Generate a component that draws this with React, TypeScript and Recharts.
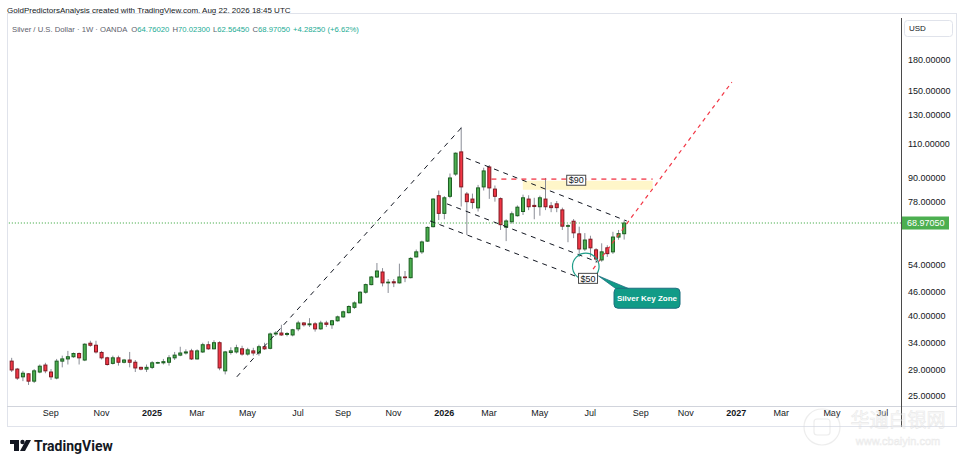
import { Bar, ComposedChart, XAxis, YAxis, ReferenceLine, ReferenceArea, ReferenceDot } from "recharts";

// weekly candles, first bar = week of 2024-07-15, last = week of 2026-08-17
const opens = [
  30.6, 29.2, 27.9, 28.4, 27.2, 28.7, 29.9, 28.7, 27.7, 30.6,
  31.0, 31.4, 32.0, 30.8, 34.0, 33.6, 32.2, 31.2, 30.2, 31.2,
  30.4, 30.8, 30.4, 29.5, 29.2, 29.5, 30.3, 30.3, 30.4, 31.2,
  31.7, 32.1, 32.5, 31.0, 32.3, 33.7, 32.9, 34.1, 28.9, 32.2,
  32.3, 32.9, 31.9, 32.5, 32.1, 33.3, 33.0, 35.9, 36.1, 35.8,
  35.7, 37.0, 38.3, 37.9, 38.1, 37.0, 38.3, 37.9, 38.8, 39.7,
  40.7, 42.0, 43.1, 45.9, 48.0, 50.2, 51.7, 48.5, 48.8, 48.5,
  50.2, 50.0, 56.5, 58.2, 62.0, 67.5, 81.0, 73.0, 80.7, 92.0,
  104.8, 81.8, 79.4, 75.4, 85.3, 95.9, 84.2, 79.6, 67.3, 69.5,
  72.0, 73.8, 79.4, 76.5, 75.9, 79.4, 76.3, 77.2, 74.5, 67.7,
  69.7, 64.7, 59.2, 62.7, 58.9, 55.5, 59.6, 58.2, 63.5, 64.7602,
];
const highs = [
  31.2, 29.4, 28.9, 28.5, 29.2, 30.0, 30.3, 29.2, 31.0, 31.6,
  32.5, 32.2, 32.2, 34.0, 34.5, 34.5, 32.5, 31.4, 31.6, 31.6,
  31.0, 32.3, 30.8, 29.6, 30.0, 30.6, 30.5, 31.0, 31.7, 32.3,
  33.3, 32.8, 32.9, 32.8, 34.1, 34.4, 34.6, 34.4, 32.5, 33.2,
  33.7, 33.5, 33.1, 33.1, 33.7, 34.1, 36.2, 36.5, 37.9, 36.3,
  37.0, 38.8, 38.5, 39.4, 38.5, 38.8, 38.8, 39.0, 40.0, 41.2,
  42.5, 43.5, 46.2, 48.3, 50.5, 54.5, 52.9, 49.6, 49.6, 54.3,
  52.0, 56.4, 59.0, 62.2, 67.6, 79.8, 83.5, 80.8, 92.3, 104.5,
  121.4, 82.8, 82.0, 86.3, 95.5, 97.0, 86.0, 80.2, 70.5, 73.8,
  76.5, 81.5, 81.2, 80.0, 81.0, 89.9, 78.0, 78.5, 75.5, 68.5,
  70.6, 67.5, 65.0, 64.0, 59.5, 61.2, 60.5, 65.5, 66.2, 70.023,
];
const lows = [
  28.7, 27.4, 27.2, 26.6, 26.9, 28.5, 28.5, 27.4, 27.5, 29.5,
  30.0, 31.2, 30.0, 30.6, 33.3, 32.0, 30.9, 29.8, 30.0, 29.8,
  30.2, 29.5, 28.7, 29.0, 28.7, 29.2, 30.1, 30.0, 29.8, 30.8,
  31.5, 31.8, 30.8, 30.9, 32.1, 32.7, 32.8, 29.0, 28.3, 31.8,
  32.0, 31.6, 31.6, 31.6, 31.6, 32.7, 32.8, 35.5, 35.5, 35.4,
  35.4, 36.5, 37.5, 37.4, 36.4, 36.8, 37.4, 37.0, 38.6, 39.5,
  40.5, 41.6, 42.9, 45.5, 47.8, 49.9, 47.5, 45.7, 47.3, 48.3,
  48.7, 49.8, 56.3, 57.5, 61.7, 67.2, 70.2, 70.5, 79.8, 91.0,
  76.0, 64.3, 75.0, 73.8, 83.5, 79.5, 78.2, 66.2, 62.0, 68.7,
  71.6, 72.3, 74.4, 70.5, 72.0, 74.4, 73.5, 73.5, 66.2, 61.6,
  63.1, 56.5, 58.5, 56.5, 54.5, 54.9, 56.5, 57.5, 62.5, 62.5645,
];
const closes = [
  29.05, 27.7, 28.5, 27.2, 28.9, 29.7, 28.9, 27.9, 30.6, 31.0,
  31.4, 32.0, 31.2, 33.8, 33.6, 32.3, 31.2, 30.0, 31.2, 30.4,
  30.8, 30.4, 29.4, 29.2, 29.5, 30.3, 30.35, 30.5, 31.2, 31.7,
  32.1, 32.3, 31.0, 32.5, 33.7, 32.9, 34.1, 29.4, 32.3, 32.5,
  33.1, 31.9, 32.7, 32.1, 33.3, 32.9, 35.9, 36.1, 35.7, 36.0,
  36.8, 38.3, 37.9, 38.1, 37.0, 38.3, 38.0, 38.8, 39.7, 40.9,
  42.2, 43.1, 45.9, 48.0, 50.2, 52.0, 48.5, 48.7, 48.5, 50.2,
  50.0, 56.0, 58.2, 61.7, 67.2, 79.4, 73.0, 80.0, 89.9, 104.0,
  85.3, 78.2, 77.8, 84.8, 93.7, 84.8, 80.7, 68.3, 69.8, 72.8,
  75.7, 80.0, 75.9, 76.0, 80.0, 75.9, 75.5, 75.5, 67.7, 67.9,
  65.1, 59.2, 62.4, 59.6, 55.8, 58.2, 57.6, 63.5, 64.8, 68.9705,
];

// x = week number since the first bar
const tickWeeks = [7, 16, 25, 33, 42, 51, 59, 68, 77, 85, 94, 103, 112, 120, 129, 137, 146, 155];
const tickLabels = ["Sep", "Nov", "2025", "Mar", "May", "Jul", "Sep", "Nov", "2026", "Mar", "May", "Jul", "Sep", "Nov", "2027", "Mar", "May", "Jul"];
// 68 is drawn separately so the last-price tag can sit on top of it
const priceTicks = [25, 29, 34, 40, 46, 54, 78, 90, 110, 130, 150, 180];
const hiddenTick = 68;

const lastClose = 68.9705;

const data = opens.map((o, i) => ({ i, o, h: highs[i], l: lows[i], c: closes[i], range: [lows[i], highs[i]] }));

const UP = "#4caf50";
const UP_BORDER = "#1b5e20";
const DOWN = "#f23645";
const DOWN_BORDER = "#801922";
const WICK = "#8a8d96";
const TEXT = "#131722";
const FONT = "'Liberation Sans', Arial, sans-serif";

function Candle(props: any) {
  const { x, y, width, height, payload } = props;
  if (!payload) return null;
  const cx = x + width / 2;
  const top = Math.min(y, y + height);
  const bottom = Math.max(y, y + height);
  const { o, h, l, c } = payload;
  const span = Math.log(h) - Math.log(l);
  const py = (p: number) => (span > 0 ? top + ((bottom - top) * (Math.log(h) - Math.log(p))) / span : top);
  const up = c >= o;
  const bTop = py(Math.max(o, c));
  const bBot = py(Math.min(o, c));
  return (
    <g>
      <line x1={cx} x2={cx} y1={top} y2={bottom} stroke={WICK} strokeWidth={1} />
      <rect
        x={cx - 1.5}
        y={bTop}
        width={3}
        height={Math.max(bBot - bTop, 0.6)}
        fill={up ? UP : DOWN}
        stroke={up ? UP_BORDER : DOWN_BORDER}
        strokeWidth={1}
      />
    </g>
  );
}

function XTick(props: any) {
  const { x, y, payload } = props;
  const idx = tickWeeks.indexOf(payload.value);
  const label = tickLabels[idx] ?? "";
  const isYear = /^\d{4}$/.test(label);
  return (
    <text x={x} y={y} dy="0.71em" textAnchor="middle" fontSize={9} fontFamily={FONT} fill={TEXT} fontWeight={isYear ? 700 : 400}>
      {label}
    </text>
  );
}

function AxisText(props: any) {
  const { cx, cy } = props;
  return (
    <text x={cx + 7} y={cy} dy="0.355em" fontSize={9} fontFamily={FONT} fill={TEXT}>
      {hiddenTick.toFixed(5)}
    </text>
  );
}

function PriceTag(props: any) {
  const { cx, cy } = props;
  return (
    <g>
      <rect x={cx} y={cy - 6.5} width={48} height={13} fill="#4caf50" />
      <text x={cx + 6} y={cy} dy="0.35em" fontSize={9} fontFamily={FONT} fill="#fff">
        {lastClose.toFixed(5)}
      </text>
    </g>
  );
}

function BoxLabel({ cx, cy, text }: any) {
  return (
    <g>
      <rect x={cx - 9.5} y={cy - 5} width={19} height={10} fill="#fff" stroke="#4a4a4a" strokeWidth={1} />
      <text x={cx} y={cy} dy="0.36em" textAnchor="middle" fontSize={9} fontFamily={FONT} fill={TEXT}>
        {text}
      </text>
    </g>
  );
}

function Callout(props: any) {
  const { cx, cy } = props;
  return (
    <g>
      <polygon points={`${cx - 48.5},${cy - 22.3} ${cx - 31},${cy - 9.5} ${cx - 18},${cy - 9.5}`} fill="#119b87" stroke="#1e6f80" strokeWidth={0.8} />
      <rect x={cx - 33} y={cy - 10} width={66} height={20} rx={4} fill="#119b87" stroke="#1e6f80" strokeWidth={1} />
      <rect x={cx - 32} y={cy - 9.2} width={15} height={2} fill="#119b87" />
      <text x={cx} y={cy} dy="0.35em" textAnchor="middle" fontSize={8} fontWeight={700} fontFamily={FONT} fill="#fff">
        Silver Key Zone
      </text>
    </g>
  );
}

function Overlay() {
  return (
    <svg width={964} height={466} style={{ position: "absolute", left: 0, top: 0, pointerEvents: "none" }}>
      <text x={7} y={13} fontSize={8} fontFamily={FONT} fill={TEXT}>
        GoldPredictorsAnalysis created with TradingView.com, Aug 22, 2026 18:45 UTC
      </text>
      <text x={12} y={32} fontSize={7.7} fontFamily={FONT} fill="#5d606b">
        Silver / U.S. Dollar · 1W · OANDA
        <tspan dx={4} fill="#5d606b">O</tspan><tspan fill="#22ab94">64.76020</tspan>
        <tspan dx={3} fill="#5d606b">H</tspan><tspan fill="#22ab94">70.02300</tspan>
        <tspan dx={3} fill="#5d606b">L</tspan><tspan fill="#22ab94">62.56450</tspan>
        <tspan dx={3} fill="#5d606b">C</tspan><tspan fill="#22ab94">68.97050</tspan>
        <tspan dx={3} fill="#22ab94">+4.28250 (+6.62%)</tspan>
      </text>
      {/* pane frame */}
      <line x1={7} x2={957} y1={13.5} y2={13.5} stroke="#e0e3eb" />
      <line x1={7.5} x2={7.5} y1={13} y2={427} stroke="#e0e3eb" />
      <line x1={956.5} x2={956.5} y1={13} y2={427} stroke="#e0e3eb" />
      <line x1={7} x2={957} y1={426.5} y2={426.5} stroke="#e0e3eb" />
      <line x1={7} x2={957} y1={406.5} y2={406.5} stroke="#d1d4dc" />
      <line x1={901.5} x2={901.5} y1={18} y2={427} stroke="#4a4a4a" />
      <rect x={904.5} y={20.5} width={48} height={16} rx={3} fill="#fff" stroke="#e0e3eb" />
      <text x={909} y={28.5} dy="0.35em" fontSize={8} fontFamily={FONT} fill={TEXT}>
        USD
      </text>
      {/* TradingView mark */}
      <rect x={10} y={440} width={9} height={4} fill={TEXT} />
      <rect x={14} y={440} width={5} height={11} fill={TEXT} />
      <circle cx={22.5} cy={442} r={2.2} fill={TEXT} />
      <polygon points="26,440 31,440 25,451 20,451" fill={TEXT} />
      <text x={34} y={451} fontSize={14} fontWeight={700} fontFamily="Roboto, sans-serif" fill={TEXT}>
        TradingView
      </text>
      {/* watermark */}
      <g opacity={0.45}>
        <circle cx={822} cy={427} r={18} fill="none" stroke="#d8d8d8" strokeWidth={1.2} />
        <rect x={814} y={419} width={16} height={16} rx={3} fill="none" stroke="#d8d8d8" strokeWidth={1.2} />
        <text x={898} y={427} textAnchor="middle" fontSize={19} fontFamily="'Noto Sans CJK SC', sans-serif" fill="#f4f4f4" stroke="#d0d0d0" strokeWidth={0.6}>
          华通白银网
        </text>
        <text x={898} y={445} textAnchor="middle" fontSize={11} fontFamily={FONT} fill="#f4f4f4" stroke="#d0d0d0" strokeWidth={0.5}>
          www.cbaiyin.com
        </text>
      </g>
    </svg>
  );
}

export default function App() {
  return (
    <div style={{ position: "absolute", left: 0, top: 0, width: 964, height: 466, background: "#fff" }}>
      <ComposedChart width={964} height={466} data={data} margin={{ top: 13, right: 7, bottom: 38, left: 7 }}>
        <XAxis
          dataKey="i"
          type="number"
          domain={[-0.8, 158.3]}
          allowDataOverflow
          ticks={tickWeeks}
          interval={0}
          axisLine={false}
          tickLine={false}
          tickSize={4}
          tickMargin={0}
          height={22}
          tick={<XTick />}
        />
        <YAxis
          orientation="right"
          scale="log"
          domain={[23.5, 237.3]}
          allowDataOverflow
          ticks={priceTicks}
          interval={0}
          width={56}
          axisLine={false}
          tickLine={false}
          tickMargin={1}
          tick={{ fontSize: 9, fill: TEXT, fontFamily: FONT }}
          tickFormatter={(v: number) => v.toFixed(5)}
        />
        <ReferenceArea x1={91.0} x2={114.1} y1={83.9} y2={88.5} fill="#fff6c9" fillOpacity={1} stroke="none" ifOverflow="visible" />
        <ReferenceLine y={lastClose} stroke="#4caf50" strokeDasharray="1.2 1.8" strokeWidth={1} />
        <Bar dataKey="range" barSize={4} shape={<Candle />} isAnimationActive={false} />
        {/* rally line into the January high */}
        <ReferenceLine segment={[{ x: 40.1, y: 27.9 }, { x: 80.2, y: 121.4 }]} stroke={TEXT} strokeDasharray="5 5" ifOverflow="visible" />
        {/* falling channel */}
        <ReferenceLine segment={[{ x: 80.9, y: 101.1 }, { x: 109.5, y: 69.8 }]} stroke={TEXT} strokeDasharray="5 5" ifOverflow="visible" />
        <ReferenceLine segment={[{ x: 77.5, y: 77.2 }, { x: 104.2, y: 54.9 }]} stroke={TEXT} strokeDasharray="5 5" ifOverflow="visible" />
        <ReferenceLine segment={[{ x: 74.5, y: 69.8 }, { x: 100.3, y: 50.5 }]} stroke={TEXT} strokeDasharray="5 5" ifOverflow="visible" />
        {/* targets */}
        <ReferenceLine segment={[{ x: 85.4, y: 89.3 }, { x: 114.1, y: 89.3 }]} stroke="#f23645" strokeOpacity={0.75} strokeWidth={1.6} strokeDasharray="5 5" ifOverflow="visible" />
        <ReferenceLine segment={[{ x: 103.5, y: 52.6 }, { x: 128.2, y: 158 }]} stroke="#f23645" strokeWidth={1.2} strokeDasharray="4 4" ifOverflow="visible" />
        <ReferenceDot x={102.2} y={53.4} r={13.3} fill="none" stroke="#1f9e8a" strokeWidth={1.2} ifOverflow="visible" />
        <ReferenceDot x={100.5} y={88.7} ifOverflow="visible" shape={(p: any) => <BoxLabel cx={p.cx} cy={p.cy} text="$90" />} />
        <ReferenceDot x={102.6} y={49.8} ifOverflow="visible" shape={(p: any) => <BoxLabel cx={p.cx} cy={p.cy} text="$50" />} />
        <ReferenceDot x={113.1} y={44.3} ifOverflow="visible" shape={(p: any) => <Callout cx={p.cx} cy={p.cy} />} />
        <ReferenceDot x={158.3} y={hiddenTick} ifOverflow="visible" shape={(p: any) => <AxisText cx={p.cx} cy={p.cy} />} />
        <ReferenceDot x={158.3} y={lastClose} ifOverflow="visible" shape={(p: any) => <PriceTag cx={p.cx} cy={p.cy} />} />
      </ComposedChart>
      <Overlay />
    </div>
  );
}
